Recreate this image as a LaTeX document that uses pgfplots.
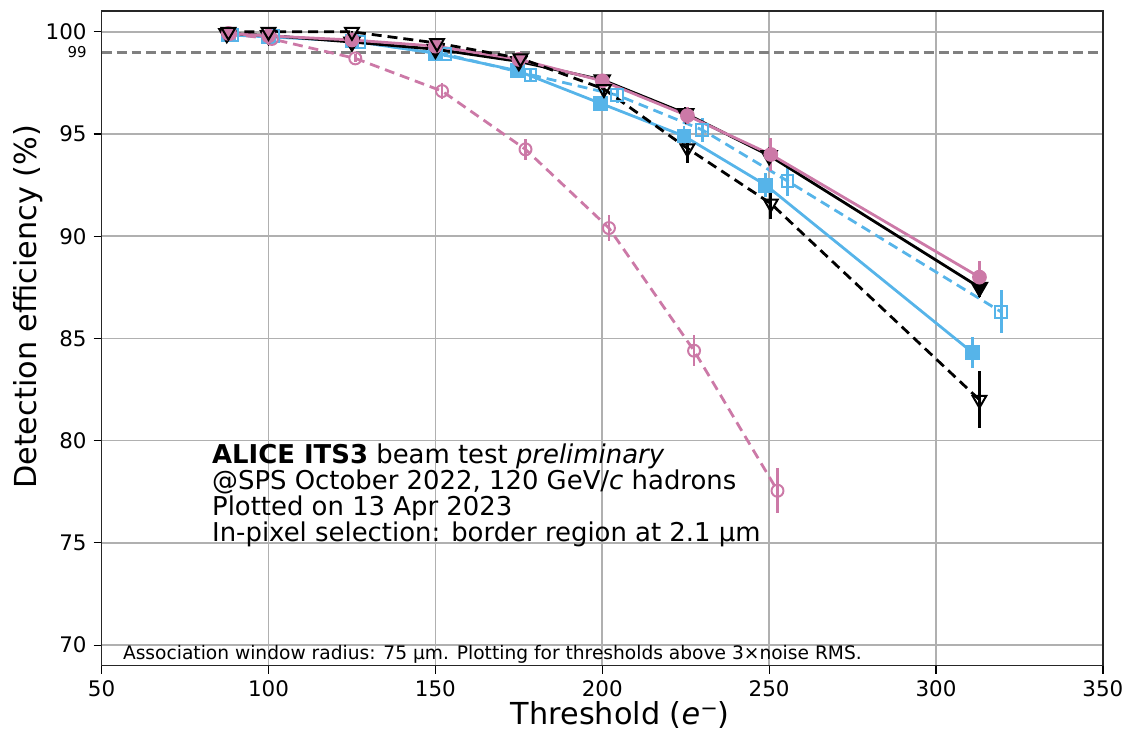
\documentclass[border=0pt]{standalone}
\usepackage{fontspec}
\setmainfont{DejaVu Sans}
\usepackage{pgfplots}
\usepackage{pgfplotstable}
\pgfplotsset{compat=1.18}
\definecolor{cpink}{HTML}{CC79A7}
\definecolor{cblue}{HTML}{56B4E9}
\definecolor{cgrid}{HTML}{B0B0B0}

\pgfplotstableread{
x y e
87.5 99.92 0.05
100 99.82 0.06
125 99.50 0.10
150 99.15 0.15
175 98.55 0.20
200 97.65 0.25
225 96.00 0.30
250 93.95 0.40
313 87.50 0.45
}\blacksolid
\pgfplotstableread{
x y e
88 99.92 0.05
100 99.80 0.06
125 99.60 0.10
150 99.30 0.15
175 98.65 0.20
200 97.60 0.30
225.5 95.90 0.40
250.5 94.00 0.80
313 88.00 0.80
}\pinksolid
\pgfplotstableread{
x y e
88 100.0 0.03
100 100.0 0.03
125 100.0 0.05
150.5 99.45 0.10
175.5 98.70 0.20
200.5 97.20 0.30
225.5 94.30 0.70
250.5 91.60 0.75
313 82.00 1.40
}\blackdashed
\pgfplotstableread{
x y e
88 99.85 0.05
100 99.75 0.06
125 99.55 0.10
150 98.95 0.15
174.5 98.10 0.20
199.5 96.50 0.30
224.5 94.90 0.50
249 92.50 0.60
311 84.30 0.75
}\bluesolid
\pgfplotstableread{
x y e
89 99.85 0.05
101.5 99.80 0.06
127 99.50 0.10
153 98.90 0.15
178.5 97.90 0.35
204.5 96.90 0.40
230 95.20 0.60
255.5 92.70 0.75
319.5 86.30 1.05
}\bluedashed
\pgfplotstableread{
x y e
88.5 99.90 0.05
101 99.65 0.10
126 98.70 0.20
152 97.10 0.40
177 94.25 0.50
202 90.40 0.65
227.5 84.40 0.75
252.5 77.55 1.10
}\pinkdashed

\begin{document}
\begin{tikzpicture}
\path (0,0) rectangle (565pt,366pt);
\begin{axis}[
  at={(51pt,32pt)}, anchor=south west,
  scale only axis, width=502.5pt, height=328.5pt,
  xmin=50, xmax=350, ymin=69, ymax=101.02,
  xtick={50,100,...,350}, ytick={70,75,...,100},
  grid=major, grid style={color=cgrid, line width=0.8pt},
  tick align=outside, tick pos=left,
  major tick length=4pt,
  tick style={black, line width=0.6pt},
  axis line style={line width=0.8pt, black!85},
  ticklabel style={font=\fontsize{10.75}{12}\selectfont},
  /pgf/number format/assume math mode=true,
  extra y ticks={99}, extra y tick labels={99},
  extra y tick style={grid=none, tick style={draw=none},
     ticklabel style={font=\fontsize{7.5}{8}\selectfont}},
  xlabel={Threshold (\textit{e}\raisebox{0.55ex}{\fontsize{10.5}{10}\selectfont −})},
  ylabel={Detection efficiency (\%)},
  xlabel style={at={(axis description cs:0.518,-0.0761)}, anchor=center, font=\fontsize{15.2}{16}\selectfont},
  ylabel style={at={(axis description cs:-0.0736,0.548)}, anchor=center, font=\fontsize{15.2}{16}\selectfont},
  clip=false,
  error bars/y dir=both, error bars/y explicit, error bars/error mark=none,
]
\addplot[color=black!50, line width=1.5pt, dash pattern=on 5pt off 2.5pt] coordinates {(50,99) (350,99)};

\addplot[cblue, line width=1.4pt, mark=square*, mark size=3pt, mark options={solid},
  error bars/error bar style={line width=1.4pt, cblue}]
  table[x=x, y=y, y error=e] {\bluesolid};
\addplot[cblue, line width=1.4pt, dash pattern=on 5pt off 3pt, mark=square, mark size=3pt, mark options={solid, fill=none, line width=1pt},
  error bars/error bar style={line width=1.4pt, cblue, solid}]
  table[x=x, y=y, y error=e] {\bluedashed};
\addplot[black, line width=1.4pt, mark=triangle*, mark size=4pt, mark options={solid, rotate=180},
  error bars/error bar style={line width=1.4pt, black}]
  table[x=x, y=y, y error=e] {\blacksolid};
\addplot[cpink, line width=1.4pt, mark=*, mark size=3pt, mark options={solid},
  error bars/error bar style={line width=1.4pt, cpink}]
  table[x=x, y=y, y error=e] {\pinksolid};
\addplot[cpink, line width=1.4pt, dash pattern=on 5pt off 3pt, mark=o, mark size=3pt, mark options={solid, fill=none, line width=1pt},
  error bars/error bar style={line width=1.4pt, cpink, solid}]
  table[x=x, y=y, y error=e] {\pinkdashed};
\addplot[black, line width=1.4pt, dash pattern=on 5pt off 3pt, mark=triangle, mark size=4pt, mark options={solid, rotate=180, fill=none, line width=1pt},
  error bars/error bar style={line width=1.4pt, black, solid}]
  table[x=x, y=y, y error=e] {\blackdashed};

\node[anchor=base west, inner sep=0pt, font=\fontsize{13}{14}\selectfont] at (axis description cs:0.110,0.309) {\textbf{ALICE ITS3} beam test \textit{preliminary}};
\node[anchor=base west, inner sep=0pt, font=\fontsize{13}{14}\selectfont] at (axis description cs:0.110,0.269) {@SPS October 2022, 120 GeV/\textit{c} hadrons};
\node[anchor=base west, inner sep=0pt, font=\fontsize{13}{14}\selectfont] at (axis description cs:0.110,0.229) {Plotted on 13 Apr 2023};
\node[anchor=base west, inner sep=0pt, font=\fontsize{13}{14}\selectfont] at (axis description cs:0.110,0.189) {In-pixel selection: border region at 2.1 µm};
\node[anchor=base west, inner sep=0pt, font=\fontsize{9.35}{10}\selectfont] at (axis description cs:0.021,0.009) {Association window radius: 75 µm. Plotting for thresholds above 3×noise RMS.};
\end{axis}
\end{tikzpicture}
\end{document}
